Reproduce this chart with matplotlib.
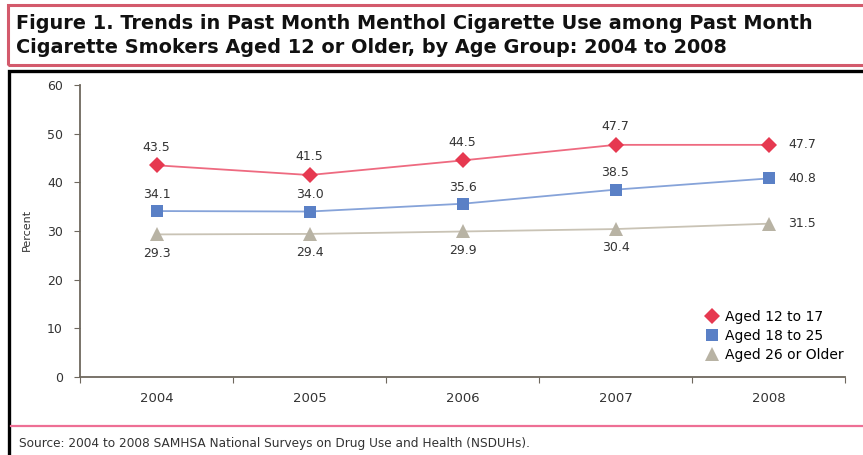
import numpy as np
import matplotlib
matplotlib.use('Agg')
import matplotlib.pyplot as plt
from matplotlib.patches import Rectangle
from matplotlib.lines import Line2D

plt.rcParams['font.family'] = ['DejaVu Sans']

# data
years = ['2004', '2005', '2006', '2007', '2008']
aged_12_17 = [43.5, 41.5, 44.5, 47.7, 47.7]
aged_18_25 = [34.1, 34.0, 35.6, 38.5, 40.8]
aged_26_up = [29.3, 29.4, 29.9, 30.4, 31.5]
series_names = ['Aged 12 to 17', 'Aged 18 to 25', 'Aged 26 or Older']

W, H = 863, 455
fig = plt.figure(figsize=(W / 100, H / 100), dpi=100)

# title box (pink border)
fig.patches.append(Rectangle((8 / W, 1 - 65.5 / H), 870 / W, 60 / H, transform=fig.transFigure,
                             fill=False, edgecolor='#d35a6c', linewidth=2.2))
fig.text(16 / W, 1 - 29 / H, 'Figure 1. Trends in Past Month Menthol Cigarette Use among Past Month',
         fontsize=13.9, fontweight='bold', va='baseline', ha='left', color='#111111')
fig.text(16 / W, 1 - 53 / H, 'Cigarette Smokers Aged 12 or Older, by Age Group: 2004 to 2008',
         fontsize=13.9, fontweight='bold', va='baseline', ha='left', color='#111111')

# chart box (black border)
fig.patches.append(Rectangle((8.5 / W, -0.05), 870 / W, 1 - 71 / H + 0.05, transform=fig.transFigure,
                             fill=False, edgecolor='black', linewidth=2.4))

# pink separator + source
fig.add_artist(Line2D([11 / W, 1.0], [1 - 426 / H] * 2, transform=fig.transFigure,
                      color='#ee6f95', linewidth=1.6))
fig.text(19 / W, 1 - 443 / H, 'Source: 2004 to 2008 SAMHSA National Surveys on Drug Use and Health (NSDUHs).',
         fontsize=8.7, va='center', ha='left', color='#333333')
fig.text(27 / W, 1 - 230 / H, 'Percent', rotation=90, fontsize=8, va='center', ha='center', color='#333333')

ax = fig.add_axes([80 / W, 1 - 377 / H, (845 - 80) / W, (377 - 85) / H])
x = np.arange(len(years))

styles = [
    (aged_12_17, 'D', '#e63950', '#ee6a80', 8),
    (aged_18_25, 's', '#5a80c6', '#86a3d9', 9),
    (aged_26_up, '^', '#b8b3a4', '#c9c3b5', 9.5),
]
for (vals, mk, mc, lc, ms), name in zip(styles, series_names):
    ax.plot(x, vals, color=lc, linewidth=1.3, zorder=2)
    ax.plot(x, vals, linestyle='none', marker=mk, color=mc, markersize=ms,
            markeredgewidth=0, label=name, zorder=3)

# value labels: offset above/below for first four points, to the right for the last one
label_offsets = [13, 12, -13.5]
for vals, dy in zip([aged_12_17, aged_18_25, aged_26_up], label_offsets):
    for i, v in enumerate(vals):
        if i < len(vals) - 1:
            ax.annotate(f'{v:.1f}', (x[i], v), xytext=(0, dy), textcoords='offset points',
                        ha='center', va='center', fontsize=9, color='#333333')
        else:
            ax.annotate(f'{v:.1f}', (x[i], v), xytext=(14, 0), textcoords='offset points',
                        ha='left', va='center', fontsize=9, color='#333333')

ax.set_xlim(-0.5, len(years) - 0.5)
ax.set_ylim(0, 60)
ax.set_yticks(np.arange(0, 61, 10))
ax.set_xticks(np.arange(-0.5, len(years), 1))
ax.set_xticklabels([])
ax.set_xticks(x, minor=True)
ax.set_xticklabels(years, minor=True)
ax.tick_params(axis='x', which='minor', length=0, pad=11, labelsize=9.5, labelcolor='#333333')
ax.tick_params(axis='x', which='major', length=4, color='#6e685e')
ax.tick_params(axis='y', length=4.3, color='#6e685e', labelsize=9, labelcolor='#333333', pad=8)
for s in ['top', 'right']:
    ax.spines[s].set_visible(False)
for s in ['left', 'bottom']:
    ax.spines[s].set_color('#6e685e')
    ax.spines[s].set_linewidth(1.3)

ax.legend(loc='center left', bbox_to_anchor=(705 / W, 1 - 336 / H), bbox_transform=fig.transFigure,
          frameon=False, fontsize=10, handletextpad=0.45, labelspacing=0.35, handlelength=1.0,
          borderpad=0, borderaxespad=0)

fig.savefig('out.png', dpi=100)
